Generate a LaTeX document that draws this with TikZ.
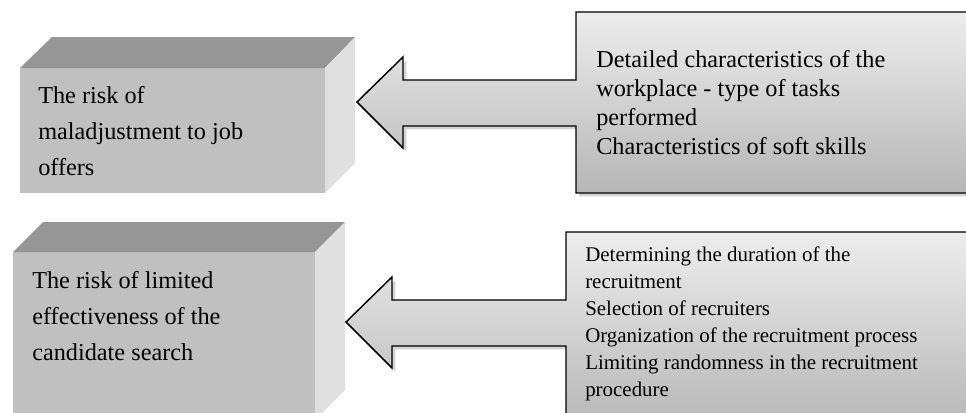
\documentclass[tikz,border=0pt]{standalone}
\usepackage{fontspec}
\setmainfont{Liberation Serif}
\usetikzlibrary{shadows}
\definecolor{cubefront}{HTML}{C0C0C0}
\definecolor{cubetop}{HTML}{969696}
\definecolor{cubeside}{HTML}{E0E0E0}
\definecolor{calltop}{HTML}{EDEDED}
\definecolor{callbot}{HTML}{B6B6B6}
\tikzset{
  front/.style={fill=cubefront},
  topface/.style={fill=cubetop},
  sideface/.style={fill=cubeside},
  callout/.style={draw=black, line width=1.1pt, line join=miter, top color=calltop, bottom color=callbot,
    drop shadow={shadow xshift=2.5pt, shadow yshift=-2.5pt, opacity=0.35}},
  risktext/.style={anchor=north west, inner sep=0pt, align=left, font=\fontsize{18.2}{27}\selectfont},
}
\begin{document}
\begin{tikzpicture}[x=0.75pt,y=-0.75pt]
  \useasboundingbox (0,0) rectangle (966,412);
  \clip (0,0) rectangle (966,412);
  % upper block
  \fill[front] (20,68) rectangle (325,193);
  \fill[topface] (20,68) -- (52,37) -- (355,37) -- (325,68) -- cycle;
  \fill[sideface] (325,68) -- (355,37) -- (355,163) -- (325,193) -- cycle;
  \node[risktext] (riskFit) at (38,86) {The risk of\\maladjustment to job\\offers};
  % lower block
  \fill[front] (13,252) rectangle (315,420);
  \fill[topface] (13,252) -- (43,222) -- (345,222) -- (315,252) -- cycle;
  \fill[sideface] (315,252) -- (345,222) -- (345,390) -- (315,420) -- cycle;
  \node[risktext] (riskSearch) at (32,271) {The risk of limited\\effectiveness of the\\candidate search};
  % upper callout
  \path[callout] (576,12) -- (985,12) -- (985,193) -- (576,193) -- (576,126) -- (403,126)
    -- (403,148) -- (357,102) -- (403,57) -- (403,80) -- (576,80) -- cycle;
  \node[anchor=north west, inner sep=0pt, align=left, font=\fontsize{18.2}{21.75}\selectfont]
    (factorsFit) at (596,50) {Detailed characteristics of the\\workplace - type of tasks\\performed\\Characteristics of soft skills};
  % lower callout
  \path[callout] (566,232) -- (985,232) -- (985,430) -- (566,430) -- (566,346) -- (392,346)
    -- (392,368) -- (346,322) -- (392,277) -- (392,300) -- (566,300) -- cycle;
  \node[anchor=north west, inner sep=0pt, align=left, font=\fontsize{15.7}{20.25}\selectfont]
    (factorsSearch) at (585,246) {Determining the duration of the\\recruitment\\Selection of recruiters\\Organization of the recruitment process\\Limiting randomness in the recruitment\\procedure};
\end{tikzpicture}
\end{document}
